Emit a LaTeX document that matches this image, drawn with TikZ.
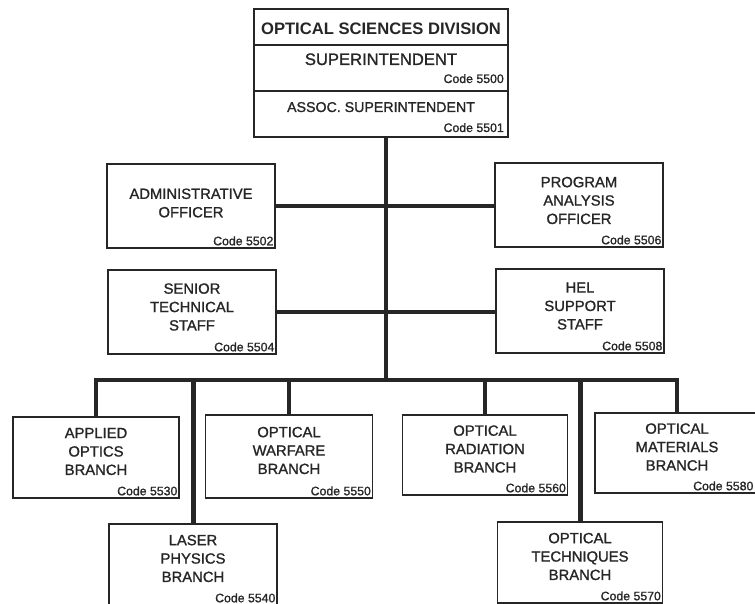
\documentclass[tikz,border=0pt]{standalone}
\usepackage{fontspec}
\setmainfont{Liberation Sans}[RawFeature={embolden=1.2}]
\newfontfamily\titlefont{Liberation Sans Bold}
\begin{document}
\begin{tikzpicture}[x=1pt,y=-1pt,
  box/.style={draw=black!85, line width=1.2pt, fill=none, inner sep=0pt},
  txt/.style={align=center, font=\fontsize{14.8}{18.4}\selectfont, text=black!85},
  code/.style={anchor=south east, inner xsep=2pt, inner ysep=3pt, font=\fontsize{12.3}{12}\selectfont, text=black!85},
  trunk/.style={line width=4.5pt, draw=black!85},
  drop/.style={line width=3.5pt, draw=black!85},
  bigdrop/.style={line width=5pt, draw=black!85}]
\useasboundingbox (0,0) rectangle (755,604);
\fill[white] (0,0) rectangle (755,604);

% top box
\node[box, minimum width=254, minimum height=128] (top) at (381,73) {};
\draw[black!85, line width=1.2pt] (254,45) -- (508,45);
\draw[black!85, line width=1.2pt] (254,91) -- (508,91);
\node[anchor=base, font=\titlefont\fontsize{16.6}{18}\selectfont, text=black!85] (title) at (381,35) {OPTICAL SCIENCES DIVISION};
\node[anchor=base, font=\fontsize{16.6}{18}\selectfont, text=black!85] (sup) at (381,65) {SUPERINTENDENT};
\node[code, anchor=base east] (c5500) at (506,83) {Code 5500};
\node[anchor=base, font=\fontsize{14.2}{18}\selectfont, text=black!85] (asup) at (381,112) {ASSOC. SUPERINTENDENT};
\node[code, anchor=base east] (c5501) at (506,132) {Code 5501};

% staff boxes
\node[box, minimum width=168, minimum height=84] (admin) at (191,206) {};
\node[txt] (admint) at ([yshift=3]admin.center) {ADMINISTRATIVE\\OFFICER};
\node[code] (c5502) at (admin.south east) {Code 5502};

\node[box, minimum width=168, minimum height=84] (prog) at (579,205) {};
\node[txt] (progt) at ([yshift=4.5]prog.center) {PROGRAM\\ANALYSIS\\OFFICER};
\node[code] (c5506) at (prog.south east) {Code 5506};

\node[box, minimum width=168, minimum height=84] (senior) at (192,312) {};
\node[txt] (seniort) at ([yshift=5]senior.center) {SENIOR\\TECHNICAL\\STAFF};
\node[code] (c5504) at (senior.south east) {Code 5504};

\node[box, minimum width=168, minimum height=84] (hel) at (580,311) {};
\node[txt] (helt) at ([yshift=5]hel.center) {HEL\\SUPPORT\\STAFF};
\node[code] (c5508) at (hel.south east) {Code 5508};

% branch boxes
\node[box, minimum width=166, minimum height=81] (applied) at (96,457.5) {};
\node[txt] (appliedt) at ([yshift=6]applied.center) {APPLIED\\OPTICS\\BRANCH};
\node[code] (c5530) at (applied.south east) {Code 5530};

\node[box, minimum width=167, minimum height=83] (warfare) at (289,456.5) {};
\node[txt] (warfaret) at ([yshift=6]warfare.center) {OPTICAL\\WARFARE\\BRANCH};
\node[code] (c5550) at (warfare.south east) {Code 5550};

\node[box, minimum width=165, minimum height=80] (rad) at (485,455) {};
\node[txt] (radt) at ([yshift=6]rad.center) {OPTICAL\\RADIATION\\BRANCH};
\node[code] (c5560) at (rad.south east) {Code 5560};

\node[box, minimum width=164, minimum height=80] (mat) at (677,453) {};
\node[txt] (matt) at ([yshift=6]mat.center) {OPTICAL\\MATERIALS\\BRANCH};
\node[code, inner xsep=6pt] (c5580) at (mat.south east) {Code 5580};

\node[box, minimum width=168, minimum height=81] (laser) at (193,564.5) {};
\node[txt] (lasert) at ([yshift=6]laser.center) {LASER\\PHYSICS\\BRANCH};
\node[code] (c5540) at (laser.south east) {Code 5540};

\node[box, minimum width=165, minimum height=81] (tech) at (580,562.5) {};
\node[txt] (techt) at ([yshift=6]tech.center) {OPTICAL\\TECHNIQUES\\BRANCH};
\node[code] (c5570) at (tech.south east) {Code 5570};

% connectors
\coordinate (busL) at (96,380);
\coordinate (busR) at (677,380);
\coordinate (busC) at (386,380);
\draw[trunk] (top.south -| busC) -- (busC);
\draw[trunk] (admin.east) -- (admin.east -| prog.west);
\draw[trunk] (senior.east) -- (senior.east -| hel.west);
\draw[trunk, line cap=rect] (busL) -- (busR);
\draw[drop] (busL) -- (applied.north);
\draw[drop] (warfare.north |- busL) -- (warfare.north);
\draw[drop] (rad.north |- busL) -- (rad.north);
\draw[drop] (busR) -- (mat.north);
\draw[bigdrop] (laser.north |- busL) -- (laser.north);
\draw[bigdrop] (tech.north |- busL) -- (tech.north);
\end{tikzpicture}
\end{document}
